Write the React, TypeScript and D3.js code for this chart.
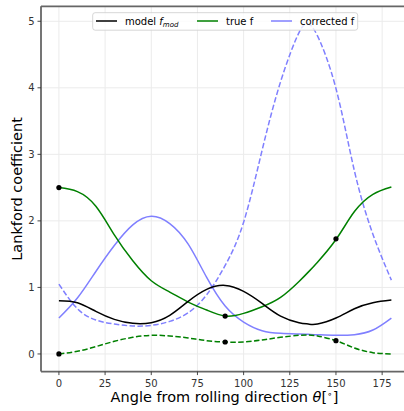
import React, { useRef, useEffect } from "react";
import * as d3 from "d3";

// angle from rolling direction (deg)
const angles = [0, 10, 20, 30, 40, 50, 60, 70, 80, 90, 100, 110, 120, 130, 135, 140, 150, 160, 170, 180];
const modelF = [0.8, 0.77, 0.64, 0.52, 0.46, 0.47, 0.58, 0.79, 0.97, 1.03, 0.94, 0.76, 0.57, 0.47, 0.45, 0.45, 0.54, 0.68, 0.77, 0.81];
const trueF = [2.5, 2.44, 2.22, 1.79, 1.4, 1.1, 0.93, 0.78, 0.66, 0.57, 0.61, 0.71, 0.85, 1.09, 1.23, 1.38, 1.72, 2.14, 2.4, 2.51];
const trueFDashed = [0.0, 0.04, 0.11, 0.19, 0.25, 0.28, 0.27, 0.24, 0.2, 0.18, 0.18, 0.21, 0.25, 0.28, 0.285, 0.27, 0.2, 0.09, 0.02, 0.0];
const correctedF = [0.54, 0.84, 1.24, 1.63, 1.94, 2.07, 1.96, 1.65, 1.15, 0.72, 0.48, 0.35, 0.31, 0.3, 0.295, 0.29, 0.28, 0.29, 0.36, 0.54];
const correctedFDashed = [1.05, 0.68, 0.51, 0.45, 0.42, 0.43, 0.49, 0.62, 0.89, 1.33, 1.98, 3.06, 4.09, 4.83, 4.96, 4.78, 3.99, 2.75, 1.8, 1.11];

// measured points
const dotAngles = [0, 90, 150];
const dotTrue = [2.5, 0.57, 1.73];
const dotTrueDashed = [0.0, 0.18, 0.2];

const xTicks = [0, 25, 50, 75, 100, 125, 150, 175];
const yTicks = [0, 1, 2, 3, 4, 5];

const FONT = "DejaVu Sans, sans-serif";
const BLUE = "#8080ff";
const GREEN = "#008000";

const App = () => {
  const svgRef = useRef<SVGSVGElement>(null);

  useEffect(() => {
    const width = 404;
    const height = 411;
    const left = 41;
    const right = 408;
    const top = 6.3;
    const bottom = 371.6;

    const svg = d3.select(svgRef.current);
    svg.selectAll("*").remove();
    svg.attr("width", width).attr("height", height);

    const x = d3.scaleLinear().domain([-9.7, 189]).range([left, right]);
    const y = d3.scaleLinear().domain([-0.265, 5.225]).range([bottom, top]);

    svg
      .append("defs")
      .append("clipPath")
      .attr("id", "plot-clip")
      .append("rect")
      .attr("x", left)
      .attr("y", top)
      .attr("width", right - left)
      .attr("height", bottom - top);

    // grid
    const grid = svg.append("g");
    grid
      .selectAll("line.vx")
      .data(xTicks)
      .enter()
      .append("line")
      .attr("x1", (d) => x(d))
      .attr("x2", (d) => x(d))
      .attr("y1", top)
      .attr("y2", bottom)
      .attr("stroke", "#ebebeb")
      .attr("stroke-width", 1);
    grid
      .selectAll("line.hy")
      .data(yTicks)
      .enter()
      .append("line")
      .attr("x1", left)
      .attr("x2", right)
      .attr("y1", (d) => y(d))
      .attr("y2", (d) => y(d))
      .attr("stroke", "#ebebeb")
      .attr("stroke-width", 1);

    const plot = svg.append("g").attr("clip-path", "url(#plot-clip)");

    const line = d3
      .line<number>()
      .x((d, i) => x(angles[i]))
      .y((d) => y(d))
      .curve(d3.curveNatural);

    const series = [
      { values: correctedFDashed, color: BLUE, dash: "5.5,2.4" },
      { values: correctedF, color: BLUE, dash: null },
      { values: trueFDashed, color: GREEN, dash: "5.5,2.4" },
      { values: trueF, color: GREEN, dash: null },
      { values: modelF, color: "#000", dash: null },
    ];

    series.forEach((s) => {
      plot
        .append("path")
        .datum(s.values)
        .attr("d", line)
        .attr("fill", "none")
        .attr("stroke", s.color)
        .attr("stroke-width", 1.5)
        .attr("stroke-dasharray", s.dash);
    });

    [dotTrue, dotTrueDashed].forEach((vals) => {
      plot
        .selectAll(null)
        .data(vals)
        .enter()
        .append("circle")
        .attr("cx", (d, i) => x(dotAngles[i]))
        .attr("cy", (d) => y(d))
        .attr("r", 2.6)
        .attr("fill", "#000");
    });

    // spines
    const spine = "#666";
    svg.append("line").attr("x1", left).attr("x2", left).attr("y1", top).attr("y2", bottom)
      .attr("stroke", spine).attr("stroke-width", 1.8);
    svg.append("line").attr("x1", left).attr("x2", right).attr("y1", bottom).attr("y2", bottom)
      .attr("stroke", spine).attr("stroke-width", 1.8);
    svg.append("line").attr("x1", left).attr("x2", right).attr("y1", top).attr("y2", top)
      .attr("stroke", spine).attr("stroke-width", 1.8);

    // x ticks
    const xAxis = svg.append("g");
    xTicks.forEach((t) => {
      xAxis.append("line").attr("x1", x(t)).attr("x2", x(t)).attr("y1", bottom).attr("y2", bottom + 3.5)
        .attr("stroke", "#333").attr("stroke-width", 0.9);
      xAxis.append("text").attr("x", x(t)).attr("y", bottom + 15).attr("text-anchor", "middle")
        .attr("font-family", FONT).attr("font-size", 10).attr("fill", "#333").text(t);
    });

    // y ticks
    const yAxis = svg.append("g");
    yTicks.forEach((t) => {
      yAxis.append("line").attr("x1", left - 3.5).attr("x2", left).attr("y1", y(t)).attr("y2", y(t))
        .attr("stroke", "#333").attr("stroke-width", 0.9);
      yAxis.append("text").attr("x", left - 6.5).attr("y", y(t) + 3.6).attr("text-anchor", "end")
        .attr("font-family", FONT).attr("font-size", 10).attr("fill", "#333").text(t);
    });

    // axis labels
    const xl = svg.append("text").attr("x", (left + right) / 2).attr("y", 402).attr("text-anchor", "middle")
      .attr("font-family", FONT).attr("font-size", 14.5).attr("fill", "#000");
    xl.append("tspan").text("Angle from rolling direction ");
    xl.append("tspan").attr("font-style", "italic").text("θ");
    xl.append("tspan").text("[");
    xl.append("tspan").attr("font-size", 9).attr("dy", -5).text("∘");
    xl.append("tspan").attr("dy", 5).text("]");

    svg.append("text").attr("transform", `translate(22, ${(top + bottom) / 2}) rotate(-90)`)
      .attr("text-anchor", "middle").attr("font-family", FONT).attr("font-size", 14.5)
      .attr("fill", "#000").text("Lankford coefficient");

    // legend
    const lg = svg.append("g");
    lg.append("rect").attr("x", 92.7).attr("y", 12.7).attr("width", 265).attr("height", 17.5).attr("rx", 2.5)
      .attr("fill", "#fff").attr("fill-opacity", 0.8).attr("stroke", "#ccc").attr("stroke-width", 0.8);
    const items = [
      { x: 96, color: "#000", label: "model" },
      { x: 197, color: GREEN, label: "true f" },
      { x: 271, color: BLUE, label: "corrected f" },
    ];
    items.forEach((it, i) => {
      lg.append("line").attr("x1", it.x).attr("x2", it.x + 21).attr("y1", 21).attr("y2", 21)
        .attr("stroke", it.color).attr("stroke-width", 1.5);
      const t = lg.append("text").attr("x", it.x + 29).attr("y", 24.5).attr("font-family", FONT)
        .attr("font-size", 10).attr("fill", "#000");
      t.append("tspan").text(it.label);
      if (i === 0) {
        t.append("tspan").attr("font-style", "italic").text(" f");
        t.append("tspan").attr("font-style", "italic").attr("font-size", 7).attr("dy", 2).text("mod");
      }
    });
  }, []);

  return (
    <div style={{ position: "absolute", left: 0, top: 0 }}>
      <svg ref={svgRef} style={{ display: "block" }}></svg>
    </div>
  );
};

export default App;
